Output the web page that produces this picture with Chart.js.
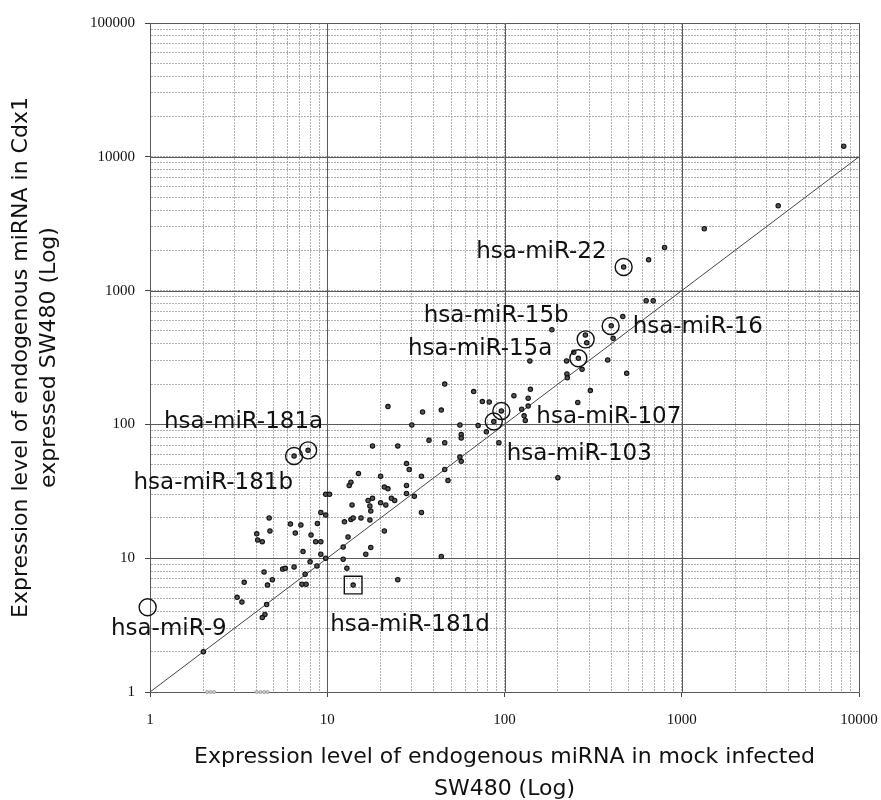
<!DOCTYPE html>
<html>
<head>
<meta charset="utf-8">
<script src="https://cdn.jsdelivr.net/npm/chart.js@4.4.1/dist/chart.umd.min.js"></script>
<style>
  html, body { margin: 0; padding: 0; background: #fff; }
  #wrap { width: 881px; height: 800px; }
</style>
</head>
<body>
<div id="wrap"><canvas id="chart"></canvas></div>
<script>
// miRNA expression: mock infected (x) vs Cdx1 expressed (y)
const xVals = [8200, 3500, 1340, 800, 650, 470, 630, 690, 465, 400, 410, 185, 286, 291,
  246, 261, 224, 274, 225, 226, 382, 489, 139, 305, 259, 140, 136, 113, 46, 67, 75, 82,
  44, 34.5, 96, 87, 125, 129, 131, 136, 30, 56, 71, 57, 57, 37.5, 46, 93, 79, 22, 18, 25,
  28, 29, 46, 56, 57, 15, 20, 34, 48, 13.3, 13.6, 21, 22, 28, 28, 31, 9.8, 10.3, 17, 17.4,
  18, 17.6, 13.8, 20, 21.4, 23, 24, 34, 9.2, 9.8, 4.7, 12.5, 13.6, 14, 15.5, 17.4, 6.2,
  7.1, 8.8, 4.75, 4, 4.05, 4.3, 6.6, 8.1, 13.1, 21, 8.6, 9.2, 12.3, 17.6, 7.3, 9.2, 16.5,
  44, 12.3, 8, 9.8, 8.75, 12.9, 6.5, 5.6, 5.8, 4.4, 7.5, 4.9, 3.4, 4.6, 7.2, 7.6, 14, 25,
  3.1, 3.3, 4.55, 4.45, 4.3, 2, 200, 7.8, 6.5];
const yVals = [12000, 4300, 2900, 2100, 1700, 1500, 840, 840, 640, 545, 440, 510, 466, 408,
  346, 312, 298, 258, 238, 223, 303, 241, 298, 179, 146, 183, 157, 164, 200, 176, 148, 147,
  128, 124, 126, 105, 130, 116, 107, 137, 99, 99, 98, 84, 79, 76, 73, 73, 88, 136, 69, 69,
  51, 46, 46, 57, 53, 43, 41, 41, 38, 35, 37, 34, 33, 35, 30.5, 29, 30, 30, 27, 24.6,
  28, 22.5, 25, 26, 25, 28, 27, 22, 22, 21, 20, 18.7, 19.5, 20, 20, 19.3, 18,
  17.7, 18.2, 16, 15.2, 13.7, 13.3, 15.4, 14.9, 14.4, 16, 13.3, 13.3, 12.1, 12, 11.2, 10.7, 10.7,
  10.3, 9.8, 9.4, 10, 8.75, 8.4, 8.6, 8.3, 8.4, 7.9, 7.6, 6.9, 6.6, 6.3, 6.4, 6.4, 6.3, 6.9,
  5.1, 4.7, 4.5, 3.8, 3.6, 2, 40, 64, 58];

// values at the bottom edge (not detected)
const zeroX = [2.1, 2.2, 2.3, 4.0, 4.2, 4.4, 4.6];
const zeroY = [1, 1, 1, 1, 1, 1, 1];

// highlighted miRNAs
const hlNames = ['hsa-miR-22', 'hsa-miR-15b', 'hsa-miR-16', 'hsa-miR-15a', 'hsa-miR-107',
  'hsa-miR-103', 'hsa-miR-181a', 'hsa-miR-181b', 'hsa-miR-9', 'hsa-miR-181d'];
const hlX = [470, 287, 397, 261, 96, 87, 7.8, 6.5, 0.97, 14];
const hlY = [1500, 432, 544, 312, 126, 105, 64, 58, 4.3, 6.3];
const hlShape = ['circle', 'circle', 'circle', 'circle', 'circle', 'circle', 'circle', 'circle', 'circle', 'rect'];

// y = x reference line
const lineX = [1, 10000];
const lineY = [1, 10000];

const xTickLabels = ['1', '10', '100', '1000', '10000'];
const yTickLabels = ['1', '10', '100', '1000', '10000', '100000'];

// label placement, pixels from the marked point
const labelPos = [
  {dx: -17, dy: -9, align: 'right'},
  {dx: -17, dy: -17, align: 'right'},
  {dx: 22, dy: 7, align: 'left'},
  {dx: -26, dy: -3, align: 'right'},
  {dx: 35, dy: 12, align: 'left'},
  {dx: 13, dy: 38, align: 'left'},
  {dx: 15, dy: -22, align: 'right'},
  {dx: -1, dy: 33, align: 'right'},
  {dx: 79, dy: 28, align: 'right'},
  {dx: -23, dy: 46, align: 'left'}
];

function logTicks(min, max) {
  const out = [];
  for (let p = min; p < max; p *= 10) {
    for (let m = 1; m < 10; m++) out.push({value: p * m});
  }
  out.push({value: max});
  return out;
}
function isDecade(v) {
  const l = Math.log10(v);
  return Math.abs(l - Math.round(l)) < 1e-9;
}

const decadeLines = {
  id: 'decadeLines',
  beforeDatasetsDraw(chart) {
    const {ctx, chartArea: a, scales: {x, y}} = chart;
    ctx.save();
    ctx.strokeStyle = '#5a5a5a';
    ctx.lineWidth = 1;
    xTickLabels.forEach(t => {
      const px = Math.round(x.getPixelForValue(+t)) + 0.5;
      ctx.beginPath(); ctx.moveTo(px, a.top); ctx.lineTo(px, a.bottom); ctx.stroke();
    });
    yTickLabels.forEach(t => {
      const py = Math.round(y.getPixelForValue(+t)) + 0.5;
      ctx.beginPath(); ctx.moveTo(a.left, py); ctx.lineTo(a.right, py); ctx.stroke();
    });
    ctx.restore();
  }
};

const labels = {
  id: 'labels',
  afterDatasetsDraw(chart) {
    const {ctx, scales: {x, y}} = chart;
    ctx.save();
    ctx.font = '23px "DejaVu Sans"';
    ctx.fillStyle = '#111';
    ctx.textBaseline = 'alphabetic';
    hlNames.forEach((name, i) => {
      const p = labelPos[i];
      ctx.textAlign = p.align;
      ctx.fillText(name, x.getPixelForValue(hlX[i]) + p.dx, y.getPixelForValue(hlY[i]) + p.dy);
    });
    ctx.restore();
  }
};

const gridOpts = {
  color: '#b0b0b0',
  lineWidth: 1,
  tickLength: 5,
  tickColor: c => (c.tick && isDecade(c.tick.value)) ? '#444' : 'rgba(0,0,0,0)'
};

new Chart(document.getElementById('chart'), {
  type: 'scatter',
  data: {
    datasets: [
      {
        data: hlX.map((v, i) => ({x: v, y: hlY[i]})),
        pointStyle: hlShape,
        pointRadius: hlShape.map(s => s === 'rect' ? 12.5 : 8.5),
        backgroundColor: 'rgba(0,0,0,0)',
        borderColor: '#111',
        borderWidth: 1.4,
        clip: false
      },
      {
        data: xVals.map((v, i) => ({x: v, y: yVals[i]})),
        pointRadius: 2.2,
        backgroundColor: '#555',
        borderColor: '#111',
        borderWidth: 1.1
      },
      {
        data: zeroX.map((v, i) => ({x: v, y: zeroY[i]})),
        pointRadius: 1.6,
        backgroundColor: '#ccc',
        borderColor: '#999',
        borderWidth: 0.8,
        clip: false
      },
      {
        data: lineX.map((v, i) => ({x: v, y: lineY[i]})),
        showLine: true,
        pointRadius: 0,
        borderColor: '#444',
        borderWidth: 1
      }
    ]
  },
  options: {
    responsive: true,
    maintainAspectRatio: false,
    animation: false,
    layout: {padding: {top: 23, right: 22, left: 0, bottom: 0}},
    plugins: {legend: {display: false}, tooltip: {enabled: false}},
    scales: {
      x: {
        type: 'logarithmic',
        min: 1,
        max: 10000,
        afterBuildTicks: s => { s.ticks = logTicks(1, 10000); },
        afterFit: s => { s.height = 108; s.paddingLeft = 0; s.paddingRight = 0; },
        grid: gridOpts,
        border: {display: true, color: '#777', dash: [2, 1]},
        ticks: {
          autoSkip: false,
          maxRotation: 0,
          padding: 14,
          color: '#111',
          font: {family: 'Liberation Serif', size: 15},
          callback: v => xTickLabels.includes(String(v)) ? String(v) : ''
        },
        title: {
          display: true,
          text: ['Expression level of endogenous miRNA in mock infected', 'SW480 (Log)'],
          color: '#111',
          font: {family: 'DejaVu Sans', size: 22, lineHeight: 1.45},
          padding: {top: 0, bottom: -5}
        }
      },
      y: {
        type: 'logarithmic',
        min: 1,
        max: 100000,
        afterBuildTicks: s => { s.ticks = logTicks(1, 100000); },
        afterFit: s => { s.width = 150; s.paddingTop = 0; s.paddingBottom = 0; },
        grid: gridOpts,
        border: {display: true, color: '#777', dash: [2, 1]},
        ticks: {
          autoSkip: false,
          padding: 10,
          color: '#111',
          font: {family: 'Liberation Serif', size: 15},
          callback: v => yTickLabels.includes(String(v)) ? String(v) : ''
        },
        title: {
          display: true,
          text: ['Expression level of endogenous miRNA in Cdx1', 'expressed SW480 (Log)'],
          color: '#111',
          font: {family: 'DejaVu Sans', size: 22, lineHeight: 1.25},
          padding: {top: 8, bottom: 0}
        }
      }
    }
  },
  plugins: [decadeLines, labels]
});
</script>
</body>
</html>
